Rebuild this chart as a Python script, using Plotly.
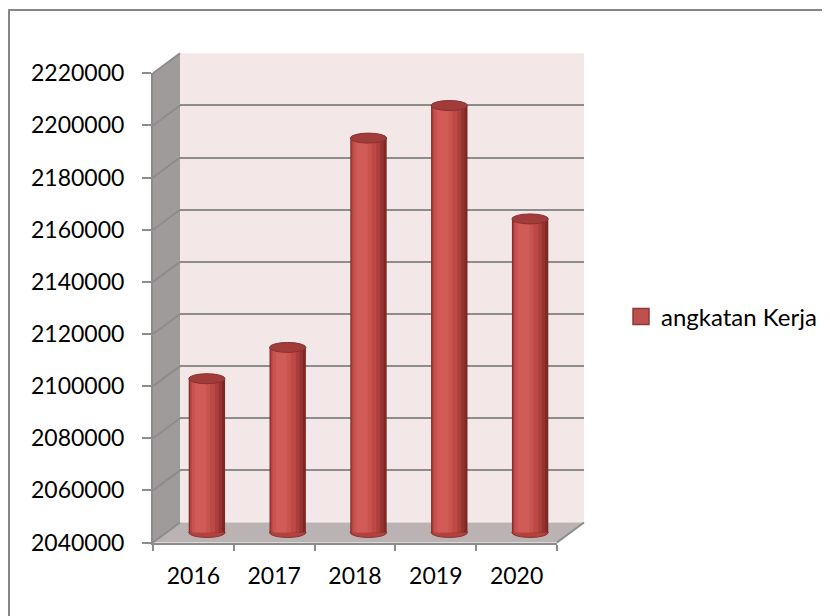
import plotly.graph_objects as go

# ---------------- data ----------------
YEARS = ["2016", "2017", "2018", "2019", "2020"]
VALUES = [2099000, 2111000, 2191300, 2203800, 2160300]
SERIES_NAME = "angkatan Kerja"
Y_MIN, Y_MAX, Y_STEP = 2040000, 2220000, 20000

# ---------------- geometry (pixels, in the screenshot frame) ----------------
W, H = 830, 616
PAGE_OFF = 8                 # default body margin of the html page
FX0, FX1 = 153, 557          # front x extent
FYB, FYT = 542.5, 73.3       # front y for Y_MIN / Y_MAX
DX, DY = 27, 20              # depth offset (back wall)
K = (FYB - FYT) / (Y_MAX - Y_MIN)  # px per unit

FONT = "Lato"
GRID = "#8C8C8C"


def px(x):
    return (x - PAGE_OFF) / W


def py(y):
    return 1 - (y - PAGE_OFF) / H


def yfront(v):
    return FYB - (v - Y_MIN) * K


def path(points):
    return "M " + " L ".join(f"{px(a)},{py(b)}" for a, b in points) + " Z"


fig = go.Figure()

# --- subplot 1: back wall grid ---
fig.add_trace(go.Scatter(x=[], y=[], xaxis="x", yaxis="y", showlegend=False, hoverinfo="skip"))

# --- subplot 2: cylinders at mid depth ---
MID_BOT_PX = FYB - DY / 2 + 8          # extended a bit so bottom ellipses are not clipped
mid_bottom_val = Y_MIN - (MID_BOT_PX - (FYB - DY / 2)) / K
BAR_W = 0.45
layers = [
    (-0.225, 0.450, "#7E2725"),
    (-0.217, 0.405, "#953331"),
    (-0.209, 0.355, "#AA3F3C"),
    (-0.200, 0.300, "#BC4A47"),
    (-0.185, 0.225, "#C8534F"),
    (-0.150, 0.140, "#D05B57"),
]
for off, w, col in layers:
    fig.add_trace(go.Bar(
        x=YEARS, y=[v - Y_MIN for v in VALUES], base=Y_MIN,
        width=w, offset=off, marker=dict(color=col, line=dict(width=0)),
        xaxis="x2", yaxis="y2", showlegend=False, hoverinfo="skip",
    ))

# legend entry
fig.add_trace(go.Scatter(
    x=[None], y=[None], mode="markers", name=SERIES_NAME,
    marker=dict(symbol="square", size=16, color="#C0504D", line=dict(color="#8C3A38", width=1.5)),
    xaxis="x2", yaxis="y2",
))

# --- subplot 3: front axes ---
fig.add_trace(go.Scatter(
    x=YEARS, y=VALUES, mode="markers", marker=dict(opacity=0),
    xaxis="x3", yaxis="y3", showlegend=False, hoverinfo="skip",
))

shapes = []
# outer chart border
shapes.append(dict(type="rect", xref="paper", yref="paper", x0=px(9), x1=1.05, y0=-0.05, y1=py(10),
                   line=dict(color="#868686", width=2), fillcolor="rgba(0,0,0,0)", layer="below"))
# back wall
shapes.append(dict(type="rect", xref="paper", yref="paper",
                   x0=px(FX0 + DX), x1=px(FX1 + DX), y0=py(FYB - DY), y1=py(FYT - DY),
                   fillcolor="#F3E7E7", line=dict(width=0), layer="below"))
# side wall
shapes.append(dict(type="path", xref="paper", yref="paper",
                   path=path([(FX0, FYT), (FX0 + DX, FYT - DY), (FX0 + DX, FYB - DY), (FX0, FYB)]),
                   fillcolor="#A09B9B", line=dict(width=0), layer="below"))
# floor
shapes.append(dict(type="path", xref="paper", yref="paper",
                   path=path([(FX0, FYB), (FX1, FYB), (FX1 + DX, FYB - DY), (FX0 + DX, FYB - DY)]),
                   fillcolor="#BBB3B3", line=dict(width=0), layer="below"))
# floor right edge
shapes.append(dict(type="line", xref="paper", yref="paper",
                   x0=px(FX1), y0=py(FYB), x1=px(FX1 + DX), y1=py(FYB - DY),
                   line=dict(color=GRID, width=2), layer="below"))
# side wall diagonals
v = Y_MIN
while v <= Y_MAX:
    yf = yfront(v)
    shapes.append(dict(type="line", xref="paper", yref="paper",
                       x0=px(FX0), y0=py(yf), x1=px(FX0 + DX), y1=py(yf - DY),
                       line=dict(color=GRID, width=2), layer="below"))
    v += Y_STEP

# cylinder ellipses (bottom & top)
EH = 5.0 / K
for i, val in enumerate(VALUES):
    shapes.append(dict(type="circle", xref="x2", yref="y2",
                       x0=i - BAR_W / 2, x1=i + BAR_W / 2, y0=Y_MIN - EH, y1=Y_MIN + EH,
                       fillcolor="#B0433F", line=dict(color="#8E3230", width=1), layer="between"))
    shapes.append(dict(type="circle", xref="x2", yref="y2",
                       x0=i - BAR_W / 2, x1=i + BAR_W / 2, y0=val - EH, y1=val + EH,
                       fillcolor="#A13C3A", line=dict(color="#8A302E", width=1), layer="above"))

tickfont = dict(family=FONT, size=23, color="#000000")

fig.update_layout(
    width=W, height=H, autosize=False,
    margin=dict(l=0, r=0, t=0, b=0, pad=0),
    paper_bgcolor="#FFFFFF", plot_bgcolor="rgba(0,0,0,0)",
    barmode="overlay",
    shapes=shapes,
    showlegend=True,
    legend=dict(x=px(621), y=py(317), xanchor="left", yanchor="middle",
                font=dict(family=FONT, size=24, color="#000000"),
                bgcolor="rgba(0,0,0,0)", borderwidth=0, itemsizing="trace"),
    # back wall axes
    xaxis=dict(domain=[px(FX0 + DX), px(FX1 + DX)], range=[-0.5, 4.5], visible=False,
               anchor="y", automargin=False),
    yaxis=dict(domain=[py(FYB - DY), py(FYT - DY)], range=[Y_MIN, Y_MAX], anchor="x",
               showgrid=True, gridcolor=GRID, gridwidth=2, tick0=Y_MIN, dtick=Y_STEP,
               showticklabels=False, zeroline=False, showline=False, ticks="", automargin=False),
    # mid-depth axes for cylinders
    xaxis2=dict(domain=[px(FX0 + DX / 2), px(FX1 + DX / 2)], type="category",
                categoryorder="array", categoryarray=YEARS, range=[-0.5, 4.5],
                visible=False, anchor="y2", automargin=False),
    yaxis2=dict(domain=[py(MID_BOT_PX), py(FYT - DY / 2)], range=[mid_bottom_val, Y_MAX],
                visible=False, anchor="x2", automargin=False),
    # front axes
    xaxis3=dict(domain=[px(FX0), px(FX1)], type="category", categoryorder="array",
                categoryarray=YEARS, range=[-0.5, 4.5], anchor="y3", automargin=False,
                showline=True, linecolor=GRID, linewidth=2, ticks="outside", ticklen=6,
                tickcolor=GRID, tickwidth=2, tickson="boundaries", showgrid=False,
                tickfont=tickfont, ticklabelstandoff=12, zeroline=False),
    yaxis3=dict(domain=[py(FYB), py(FYT)], range=[Y_MIN, Y_MAX], anchor="x3", automargin=False,
                tick0=Y_MIN, dtick=Y_STEP, showline=True, linecolor=GRID, linewidth=2,
                ticks="outside", ticklen=9, tickcolor=GRID, tickwidth=2, showgrid=False,
                zeroline=False, tickfont=tickfont, ticklabelstandoff=13, tickformat="d"),
)

fig.write_html("out.html")
